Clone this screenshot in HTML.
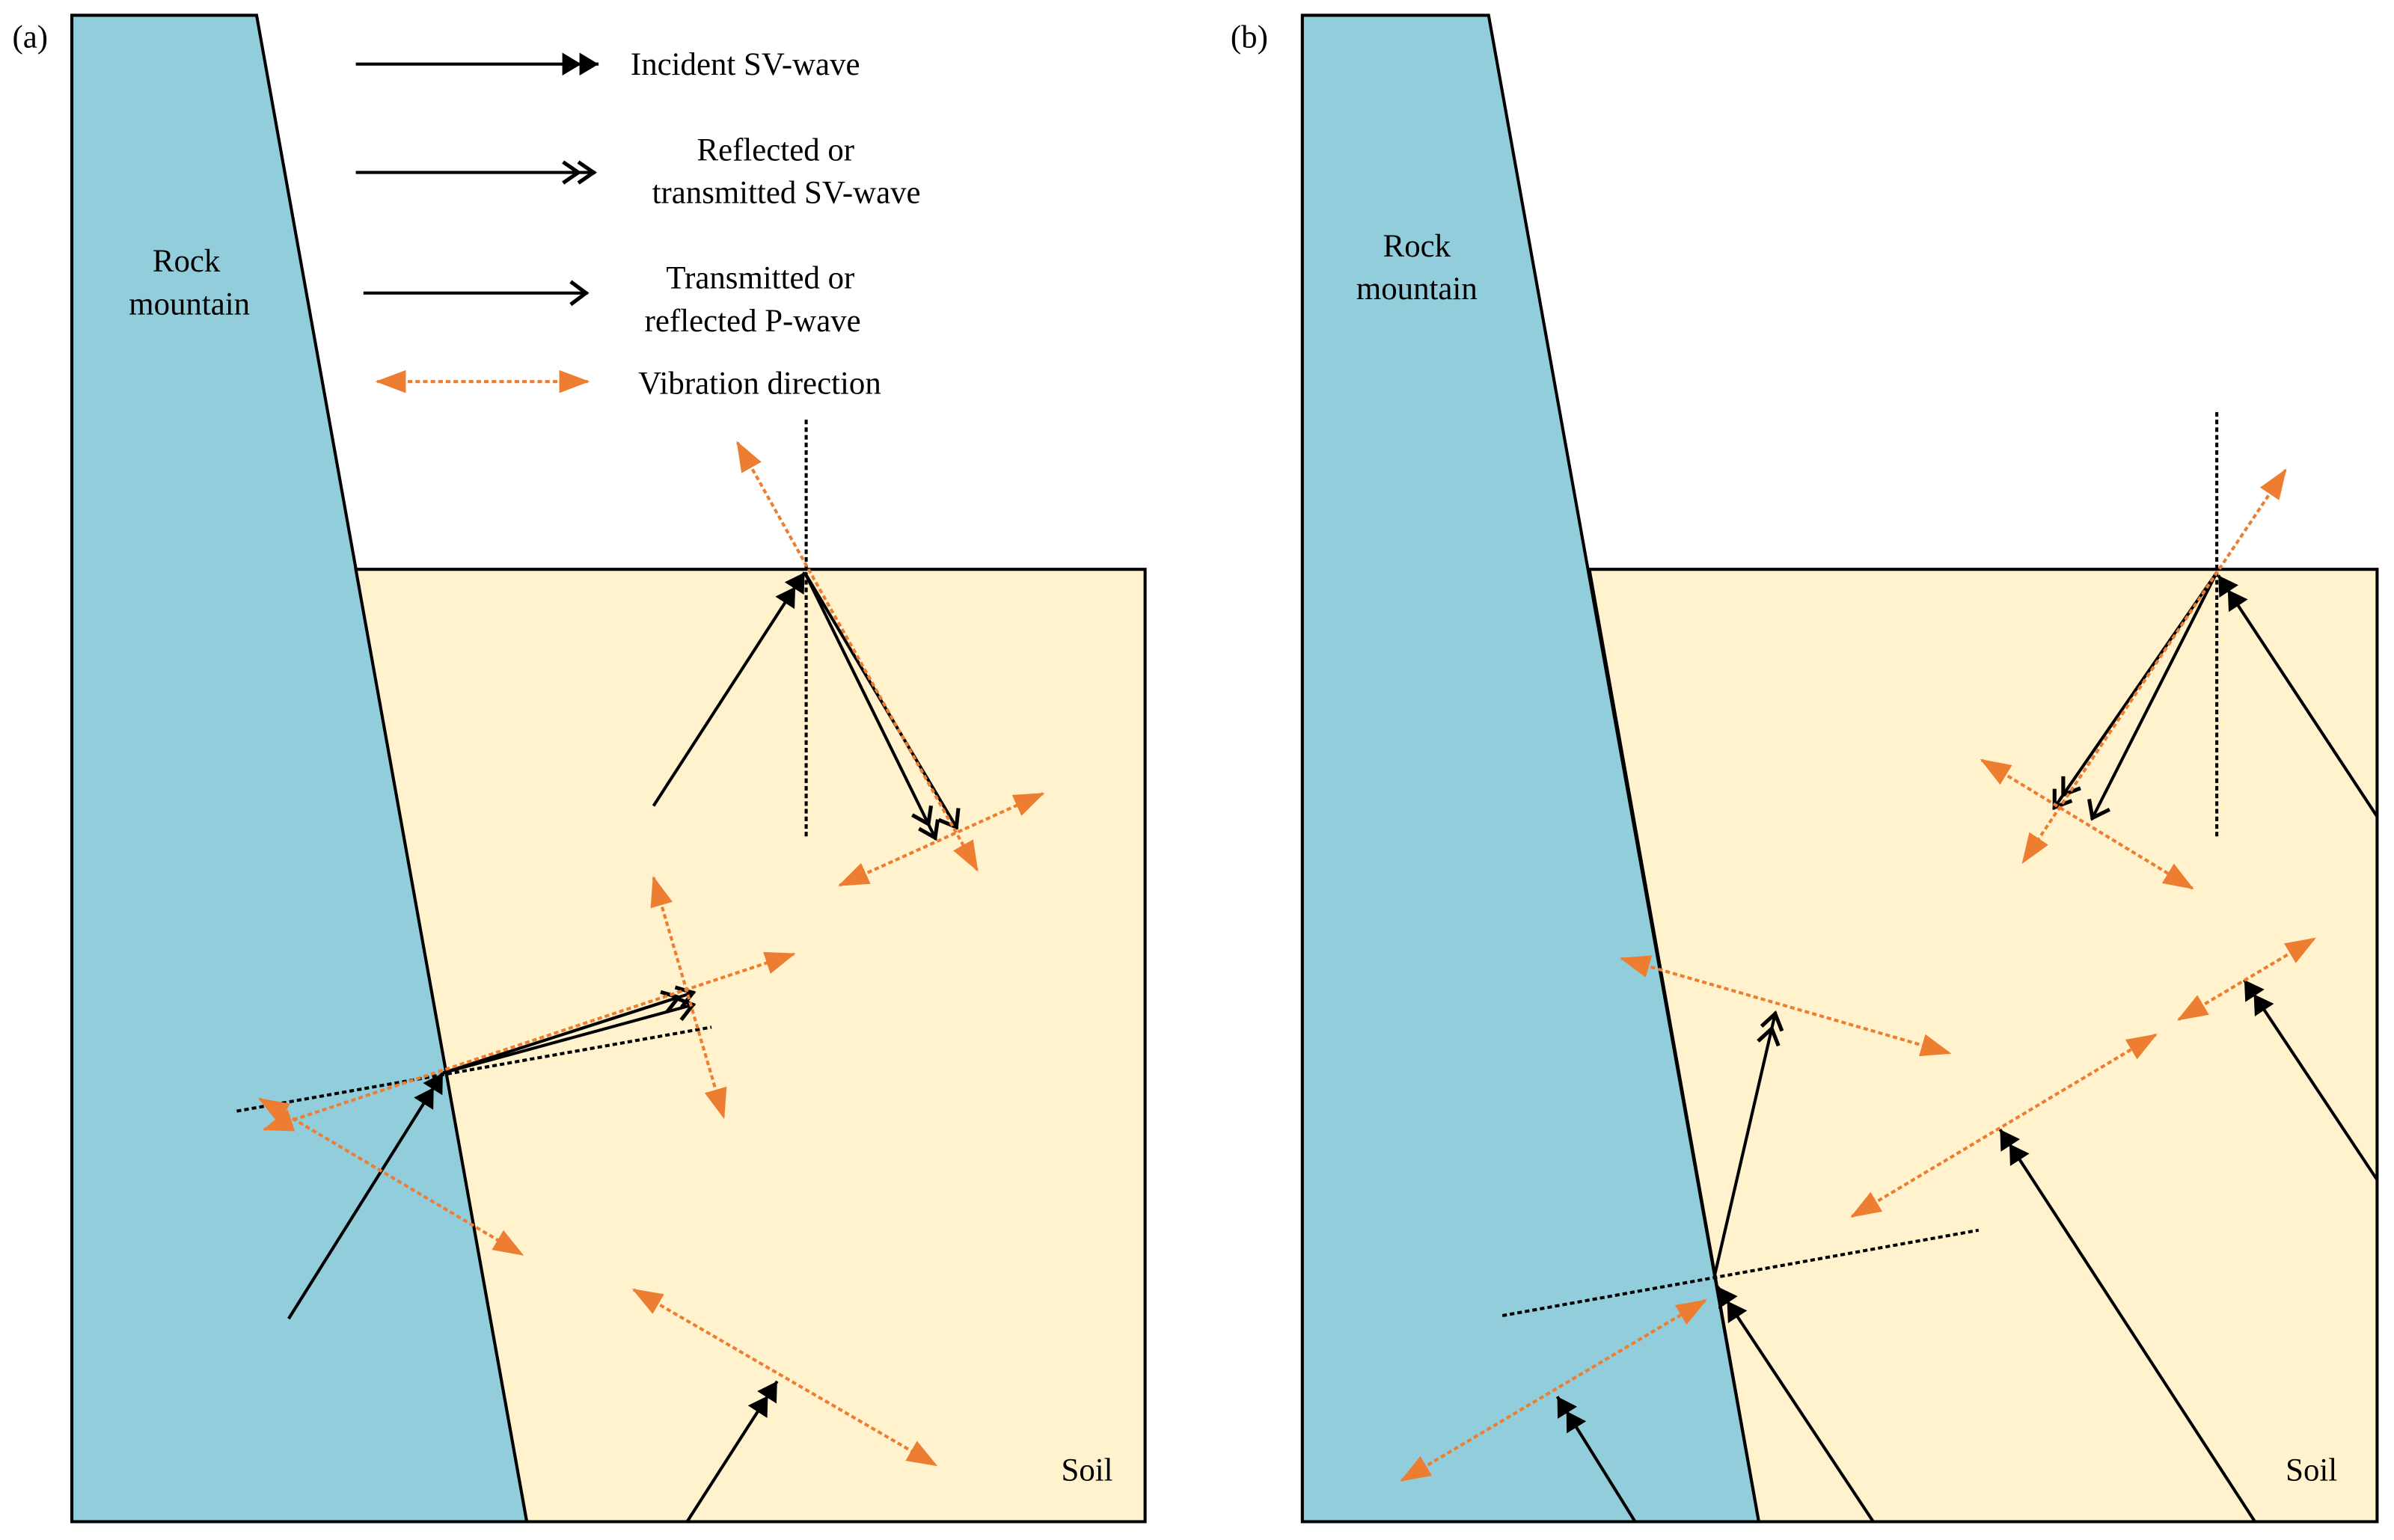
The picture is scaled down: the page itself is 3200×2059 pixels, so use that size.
<!DOCTYPE html>
<html><head><meta charset="utf-8"><style>html,body{margin:0;padding:0;background:#fff}svg{display:block}text{font-family:"Liberation Serif","Times New Roman",serif;font-size:21px}</style></head>
<body>
<svg width="3200" height="2059" viewBox="0 0 1568 1009" xmlns="http://www.w3.org/2000/svg">
<defs>
<marker id="dbl" markerUnits="userSpaceOnUse" markerWidth="30" markerHeight="20" viewBox="-12 -7 24 14" refX="10" refY="0" orient="auto">
<path d="M0,-6 L10,0 L0,6Z M-9,-6 L1,0 L-9,6Z" fill="#000"/></marker>
<marker id="ch2" markerUnits="userSpaceOnUse" markerWidth="30" markerHeight="20" viewBox="-12 -7 24 14" refX="10" refY="0" orient="auto">
<path d="M1,-5.5 L9,0 L1,5.5 M-7,-5.5 L1,0 L-7,5.5" fill="none" stroke="#000" stroke-width="2"/></marker>
<marker id="ch1" markerUnits="userSpaceOnUse" markerWidth="30" markerHeight="20" viewBox="-12 -7 24 14" refX="10" refY="0" orient="auto">
<path d="M1,-6 L9,0 L1,6" fill="none" stroke="#000" stroke-width="2"/></marker>
<marker id="or" markerUnits="userSpaceOnUse" markerWidth="20" markerHeight="16" viewBox="0 -6 16 12" refX="15" refY="0" orient="auto-start-reverse">
<path d="M0,-6 L16,0 L0,6Z" fill="#ED7D31"/></marker>
</defs>
<g stroke="#000" stroke-width="2">
<polygon points="47,10 168,10 345,997 47,997" fill="#92CDDC"/>
<polygon points="233,373 750,373 750,997 345,997" fill="#FFF2CC"/>
<polygon points="853,10 975,10 1152,997 853,997" fill="#92CDDC"/>
<polygon points="1041,373 1557,373 1557,997 1152,997" fill="#FFF2CC"/>
</g>
<g fill="#000">
<text x="8" y="31">(a)</text><text x="806" y="31">(b)</text>
<text x="122" y="178" text-anchor="middle">Rock</text><text x="124" y="206" text-anchor="middle">mountain</text>
<text x="928" y="168" text-anchor="middle">Rock</text><text x="928" y="196" text-anchor="middle">mountain</text>
<text x="712" y="970" text-anchor="middle">Soil</text><text x="1514" y="970" text-anchor="middle">Soil</text>
<text x="413" y="49">Incident SV-wave</text>
<text x="508" y="105" text-anchor="middle">Reflected or</text><text x="515" y="133" text-anchor="middle">transmitted SV-wave</text>
<text x="498" y="189" text-anchor="middle">Transmitted or</text><text x="493" y="217" text-anchor="middle">reflected P-wave</text>
<text x="418" y="258">Vibration direction</text>
</g>
<g fill="none" stroke-width="2">
<line x1="233" y1="42" x2="392" y2="42" stroke="#000" marker-end="url(#dbl)"/>
<line x1="233" y1="113" x2="390" y2="113" stroke="#000" marker-end="url(#ch2)"/>
<line x1="238" y1="192" x2="385" y2="192" stroke="#000" marker-end="url(#ch1)"/>
<g stroke="#000" stroke-dasharray="3,2">
<line x1="528" y1="275" x2="528" y2="550"/>
<line x1="155" y1="728" x2="466" y2="673"/>
<line x1="1452" y1="270" x2="1452" y2="550"/>
<line x1="984" y1="862" x2="1296" y2="806"/>
</g>
<g stroke="#000">
<line x1="428" y1="528" x2="527" y2="375" marker-end="url(#dbl)"/>
<line x1="527" y1="375" x2="613" y2="550" marker-end="url(#ch2)"/>
<line x1="527" y1="375" x2="627" y2="543" marker-end="url(#ch1)"/>
<line x1="189" y1="864" x2="290" y2="703" marker-end="url(#dbl)"/>
<line x1="290" y1="703" x2="455" y2="650" marker-end="url(#ch2)"/>
<line x1="290" y1="703" x2="455" y2="658" marker-end="url(#ch1)"/>
<line x1="450" y1="997" x2="509" y2="905" marker-end="url(#dbl)"/>
<line x1="1557" y1="535" x2="1453" y2="377" marker-end="url(#dbl)"/>
<line x1="1452" y1="375" x2="1345" y2="530" marker-end="url(#ch2)"/>
<line x1="1452" y1="375" x2="1370" y2="537" marker-end="url(#ch1)"/>
<line x1="1123" y1="836" x2="1163" y2="663" marker-end="url(#ch2)"/>
<line x1="1227" y1="997" x2="1125" y2="843" marker-end="url(#dbl)"/>
<line x1="1071" y1="997" x2="1020" y2="915" marker-end="url(#dbl)"/>
<line x1="1477" y1="997" x2="1310" y2="740" marker-end="url(#dbl)"/>
<line x1="1557" y1="773" x2="1470" y2="642" marker-end="url(#dbl)"/>
</g>
<g stroke="#ED7D31" stroke-dasharray="3,2" marker-start="url(#or)" marker-end="url(#or)">
<line x1="247" y1="250" x2="385" y2="250"/>
<line x1="483" y1="290" x2="640" y2="570"/>
<line x1="550" y1="580" x2="683" y2="520"/>
<line x1="173" y1="740" x2="520" y2="625"/>
<line x1="428" y1="575" x2="474" y2="732"/>
<line x1="170" y1="720" x2="342" y2="822"/>
<line x1="415" y1="845" x2="613" y2="960"/>
<line x1="1497" y1="308" x2="1325" y2="565"/>
<line x1="1298" y1="498" x2="1436" y2="582"/>
<line x1="1062" y1="628" x2="1277" y2="690"/>
<line x1="918" y1="970" x2="1117" y2="852"/>
<line x1="1213" y1="797" x2="1412" y2="678"/>
<line x1="1427" y1="668" x2="1516" y2="615"/>
</g>
</g>
</svg>
</body></html>
